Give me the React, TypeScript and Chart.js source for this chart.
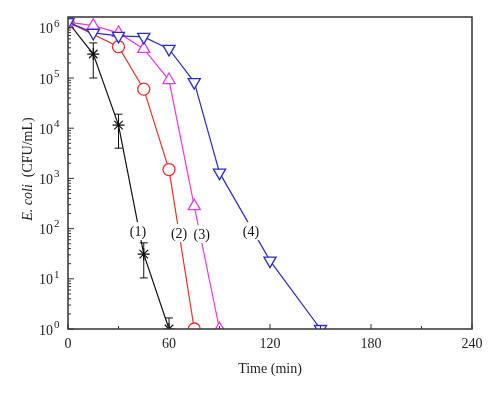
import React, { useEffect, useRef } from "react";
import { Chart, registerables } from "chart.js";

Chart.register(...registerables);

// ---- data ----
const timeS1 = [0, 15, 30, 45, 60];
const cfuS1 = [1.3e6, 3.0e5, 1.15e4, 31, 1];
const errHiS1 = [null, 5.0e5, 1.9e4, 52, 1.66];
const errLoS1 = [null, 1.0e5, 4.0e3, 10.4, 1];

const timeS2 = [0, 30, 45, 60, 75];
const cfuS2 = [1.3e6, 4.2e5, 6.0e4, 1.5e3, 1];

const timeS3 = [0, 15, 30, 45, 60, 75, 90];
const cfuS3 = [1.3e6, 1.1e6, 7.9e5, 3.8e5, 9.1e4, 280, 1];

const timeS4 = [0, 15, 30, 45, 60, 75, 90, 120, 150];
const cfuS4 = [1.3e6, 7.9e5, 6.9e5, 6.6e5, 3.8e5, 8.3e4, 1.3e3, 23, 1];

const curveLabels = ["(1)", "(2)", "(3)", "(4)"];
const curveLabelX = [41.6, 66, 79.4, 108.7];
const curveLabelY = [89, 81, 78, 89];

const xTicks = [0, 60, 120, 180, 240];
const xMinorTicks = [30, 90, 150, 210];
const yDecades = [0, 1, 2, 3, 4, 5, 6];
const supDigits = ["0", "1", "2", "3", "4", "5", "6"];

const SERIF = "'Liberation Serif', 'Times New Roman', serif";

const toXY = (xs: number[], ys: number[]) => xs.map((x, i) => ({ x, y: ys[i] }));

const decorPlugin = {
  id: "decor",
  afterDatasetsDraw(chart: any) {
    const ctx = chart.ctx;
    const xs = chart.scales.x;
    const ys = chart.scales.y;
    ctx.save();

    // error bars
    ctx.strokeStyle = "#111";
    ctx.lineWidth = 1;
    timeS1.forEach((t, i) => {
      const hi = errHiS1[i];
      const lo = errLoS1[i];
      if (hi == null || lo == null) return;
      const px = xs.getPixelForValue(t);
      const py1 = ys.getPixelForValue(hi);
      const py2 = ys.getPixelForValue(lo);
      ctx.beginPath();
      ctx.moveTo(px, py1);
      ctx.lineTo(px, py2);
      ctx.moveTo(px - 4, py1);
      ctx.lineTo(px + 4, py1);
      if (lo > 1) {
        ctx.moveTo(px - 4, py2);
        ctx.lineTo(px + 4, py2);
      }
      ctx.stroke();
    });

    // curve labels
    ctx.font = `14px ${SERIF}`;
    ctx.textAlign = "center";
    ctx.textBaseline = "middle";
    curveLabels.forEach((txt, i) => {
      const px = xs.getPixelForValue(curveLabelX[i]);
      const py = ys.getPixelForValue(curveLabelY[i]);
      const w = ctx.measureText(txt).width;
      ctx.fillStyle = "#fff";
      ctx.fillRect(px - w / 2 - 2, py - 9, w + 4, 18);
      ctx.fillStyle = "#111";
      ctx.fillText(txt, px, py + 1);
    });

    ctx.restore();
  },
  afterDraw(chart: any) {
    const ctx = chart.ctx;
    const xs = chart.scales.x;
    const ys = chart.scales.y;
    const a = chart.chartArea;
    ctx.save();

    // frame
    ctx.strokeStyle = "#333";
    ctx.lineWidth = 1.5;
    ctx.strokeRect(a.left, a.top, a.right - a.left, a.bottom - a.top);

    // x ticks (inward)
    ctx.lineWidth = 1;
    ctx.beginPath();
    xTicks.forEach((t) => {
      const px = xs.getPixelForValue(t);
      ctx.moveTo(px, a.bottom);
      ctx.lineTo(px, a.bottom - 5);
    });
    xMinorTicks.forEach((t) => {
      const px = xs.getPixelForValue(t);
      ctx.moveTo(px, a.bottom);
      ctx.lineTo(px, a.bottom - 3);
    });
    // y ticks (inward)
    yDecades.forEach((d) => {
      const py = ys.getPixelForValue(Math.pow(10, d));
      ctx.moveTo(a.left, py);
      ctx.lineTo(a.left + 6, py);
      for (let m = 2; m <= 9; m++) {
        const v = m * Math.pow(10, d);
        if (v > ys.max) break;
        const pm = ys.getPixelForValue(v);
        ctx.moveTo(a.left, pm);
        ctx.lineTo(a.left + 3, pm);
      }
    });
    ctx.stroke();

    // y tick labels with superscripts
    ctx.fillStyle = "#222";
    yDecades.forEach((d, i) => {
      const py = ys.getPixelForValue(Math.pow(10, d));
      ctx.font = `14px ${SERIF}`;
      ctx.textAlign = "right";
      ctx.textBaseline = "middle";
      ctx.fillText("10", a.left - 15, py + 2);
      ctx.font = `11px ${SERIF}`;
      ctx.textAlign = "left";
      ctx.fillText(supDigits[i], a.left - 14, py - 4);
    });

    // y axis title
    ctx.translate(28, (a.top + a.bottom) / 2 - 4);
    ctx.rotate(-Math.PI / 2);
    ctx.textBaseline = "middle";
    ctx.textAlign = "left";
    const p1 = "E. coli";
    const p2 = "  (CFU/mL)";
    ctx.font = `italic 14px ${SERIF}`;
    const w1 = ctx.measureText(p1).width;
    ctx.font = `14px ${SERIF}`;
    const w2 = ctx.measureText(p2).width;
    const start = -(w1 + w2) / 2;
    ctx.fillStyle = "#222";
    ctx.font = `italic 14px ${SERIF}`;
    ctx.fillText(p1, start, 0);
    ctx.font = `14px ${SERIF}`;
    ctx.fillText(p2, start + w1, 0);

    ctx.restore();
  },
};

export default function App() {
  const ref = useRef<HTMLCanvasElement | null>(null);
  useEffect(() => {
    if (!ref.current) return;
    const chart = new Chart(ref.current, {
      type: "line",
      data: {
        datasets: [
          {
            label: "(4)",
            data: toXY(timeS4, cfuS4),
            borderColor: "#2b2bc8",
            backgroundColor: "#fff",
            borderWidth: 1.2,
            pointStyle: "triangle",
            rotation: 180,
            pointRadius: 7,
            pointBorderWidth: 1.3,
          },
          {
            label: "(3)",
            data: toXY(timeS3, cfuS3),
            borderColor: "#e23be2",
            backgroundColor: "#fff",
            borderWidth: 1.2,
            pointStyle: "triangle",
            pointRadius: 7,
            pointBorderWidth: 1.3,
          },
          {
            label: "(2)",
            data: toXY(timeS2, cfuS2),
            borderColor: "#e2332b",
            backgroundColor: "#fff",
            borderWidth: 1.2,
            pointStyle: "circle",
            pointRadius: 6,
            pointBorderWidth: 1.3,
          },
          {
            label: "(1)",
            data: toXY(timeS1, cfuS1),
            borderColor: "#111",
            backgroundColor: "#111",
            borderWidth: 1.2,
            pointStyle: "star",
            pointRadius: 6,
            pointBorderWidth: 1.2,
          },
        ],
      },
      options: {
        animation: false,
        responsive: true,
        maintainAspectRatio: false,
        layout: { padding: { top: 17, right: 28, left: 0, bottom: 0 } },
        plugins: { legend: { display: false }, tooltip: { enabled: false } },
        elements: { line: { tension: 0 } },
        scales: {
          x: {
            type: "linear",
            min: 0,
            max: 240,
            afterFit: (s: any) => {
              s.height = 67;
            },
            afterBuildTicks: (s: any) => {
              s.ticks = xTicks.map((v) => ({ value: v }));
            },
            ticks: {
              padding: 7,
              color: "#222",
              font: { family: SERIF, size: 14 },
              maxRotation: 0,
            },
            grid: { display: false, drawTicks: false },
            border: { display: false },
            title: {
              display: true,
              text: "Time (min)",
              color: "#222",
              font: { family: SERIF, size: 14 },
              padding: { top: 0, bottom: 18 },
            },
          },
          y: {
            type: "logarithmic",
            min: 1,
            max: 1.64e6,
            afterFit: (s: any) => {
              s.width = 68;
            },
            ticks: { display: false },
            grid: { display: false, drawTicks: false },
            border: { display: false },
          },
        },
      },
      plugins: [decorPlugin],
    } as any);
    return () => chart.destroy();
  }, []);
  return (
    <div style={{ position: "fixed", left: 0, top: 0, width: 500, height: 396, background: "#fff" }}>
      <canvas ref={ref} />
    </div>
  );
}
